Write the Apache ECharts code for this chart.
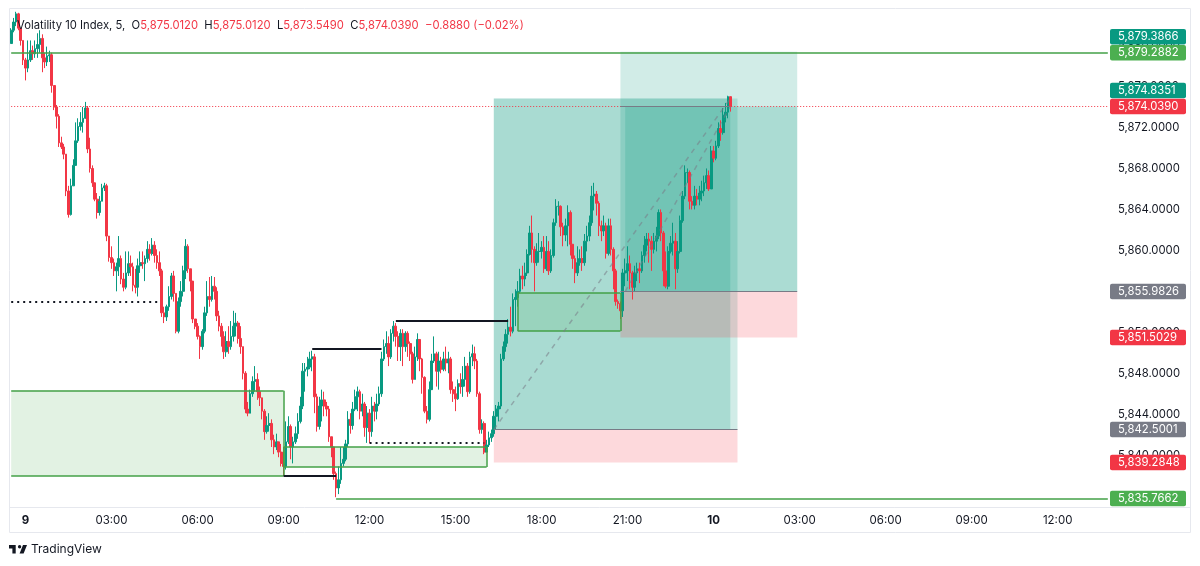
<!DOCTYPE html>
<html>
<head>
<meta charset="utf-8">
<title>Volatility 10 Index</title>
<script src="https://cdn.jsdelivr.net/npm/echarts@6/dist/echarts.min.js"></script>
<style>
  html, body { margin: 0; padding: 0; background: #fff; }
  #chart { width: 1200px; height: 566px; }
</style>
</head>
<body>
<div id="chart"></div>
<script>
// 5 minute bars. Each open is the previous close.
const firstOpen = 5880.2;
const closes = [
  5881.5,5882.3,5883.1,5881.7,5880.5,5878.6,5877.8,5878.6,5879.5,5879.2,
  5879.7,5880.1,5880.7,5878.8,5878.4,5879.0,5879.1,5876.1,5874.0,5873.1,
  5870.5,5870.1,5869.4,5865.8,5863.5,5866.3,5868.3,5870.7,5872.1,5872.5,
  5872.9,5873.9,5869.9,5868.0,5866.6,5865.0,5863.7,5864.8,5866.1,5866.3,
  5861.4,5859.3,5858.8,5858.0,5858.4,5859.2,5857.2,5856.4,5857.8,5858.7,
  5858.4,5856.6,5856.4,5858.5,5858.8,5858.7,5859.2,5860.1,5859.7,5860.5,
  5859.5,5858.8,5858.0,5853.9,5853.5,5854.5,5855.5,5857.5,5855.8,5852.1,
  5855.0,5856.0,5858.0,5860.4,5858.2,5857.0,5853.3,5852.6,5851.6,5850.6,
  5852.1,5853.9,5855.5,5855.2,5856.5,5856.0,5853.6,5852.6,5851.6,5850.1,
  5851.1,5850.6,5851.6,5852.6,5852.9,5851.4,5850.6,5848.0,5844.5,5844.1,
  5846.0,5847.2,5847.4,5846.2,5845.6,5844.3,5842.3,5842.9,5843.1,5841.5,
  5840.8,5841.3,5840.3,5839.2,5838.9,5841.3,5842.8,5840.8,5841.3,5842.1,
  5843.3,5844.8,5848.2,5848.4,5848.6,5849.4,5849.6,5845.7,5842.8,5844.8,
  5845.4,5844.8,5844.5,5841.8,5840.8,5838.2,5836.8,5837.6,5839.2,5839.6,
  5841.1,5843.5,5842.9,5844.5,5845.7,5846.2,5844.3,5845.0,5842.7,5844.1,
  5842.3,5844.8,5844.3,5845.0,5846.0,5849.4,5850.6,5850.9,5849.6,5851.9,
  5852.6,5851.6,5850.6,5851.9,5850.6,5851.9,5850.9,5849.9,5847.4,5849.6,
  5851.3,5849.4,5847.6,5844.3,5843.5,5846.4,5849.2,5849.9,5848.2,5849.2,
  5848.4,5849.4,5849.0,5849.4,5846.4,5846.0,5845.5,5847.0,5846.7,5847.4,
  5848.7,5846.2,5849.6,5849.9,5849.2,5846.0,5842.5,5843.1,5840.3,5841.0,
  5841.7,5842.1,5843.8,5844.5,5844.8,5849.4,5850.6,5851.8,5852.5,5852.1,
  5855.2,5855.4,5856.0,5857.5,5857.2,5857.8,5859.6,5861.7,5860.1,5858.8,
  5859.9,5859.9,5860.3,5858.2,5859.9,5858.0,5859.5,5862.7,5864.3,5864.3,
  5862.3,5861.5,5862.4,5863.7,5860.6,5859.2,5857.8,5858.8,5859.2,5858.8,
  5860.9,5861.4,5862.7,5865.3,5865.5,5864.6,5862.4,5861.9,5862.4,5859.7,
  5862.4,5860.1,5858.0,5855.0,5854.8,5854.1,5857.8,5858.0,5858.7,5857.8,
  5856.4,5857.8,5858.2,5858.0,5859.5,5860.5,5861.1,5860.9,5860.1,5860.9,
  5861.4,5863.7,5861.7,5858.0,5856.5,5859.9,5860.7,5860.9,5858.2,5859.9,
  5862.9,5865.3,5867.6,5867.6,5864.8,5864.4,5865.3,5865.0,5865.6,5865.8,
  5866.6,5867.3,5866.0,5869.7,5869.0,5870.2,5871.9,5871.5,5873.2,5873.5,
  5875.012,5874.039
];
const highs = [
  5881.7,5882.7,5883.3,5883.2,5881.7,5880.5,5878.8,5880.5,5880.5,5880.0,
  5880.5,5881.2,5881.5,5881.1,5879.3,5879.9,5879.5,5879.3,5876.1,5874.2,
  5873.3,5871.1,5870.4,5869.4,5866.3,5867.0,5868.9,5872.5,5872.9,5873.5,
  5874.0,5874.5,5874.1,5871.0,5868.3,5866.5,5865.6,5865.3,5866.5,5866.6,
  5866.5,5861.4,5860.4,5859.2,5858.8,5861.4,5859.5,5857.8,5859.9,5859.9,
  5859.5,5858.8,5858.2,5859.2,5859.9,5859.9,5859.5,5860.9,5860.6,5861.2,
  5860.9,5860.1,5859.9,5858.2,5854.5,5854.7,5856.5,5857.8,5858.0,5855.8,
  5855.4,5857.0,5858.5,5861.1,5860.6,5858.2,5857.0,5853.3,5852.9,5851.7,
  5852.3,5854.5,5857.0,5857.4,5857.5,5857.4,5856.4,5854.1,5852.9,5852.1,
  5852.1,5852.6,5853.1,5854.1,5853.9,5853.1,5852.6,5850.6,5848.2,5845.2,
  5846.4,5847.7,5848.7,5848.0,5846.7,5845.4,5844.5,5843.8,5844.1,5843.5,
  5842.0,5842.1,5841.3,5841.1,5840.8,5843.3,5843.8,5843.0,5841.8,5842.8,
  5844.1,5845.7,5849.0,5849.0,5849.6,5850.1,5850.2,5849.9,5846.0,5845.7,
  5846.4,5846.2,5845.2,5844.8,5841.8,5840.8,5838.4,5838.9,5840.8,5840.8,
  5841.5,5844.3,5844.1,5845.2,5846.4,5846.7,5846.4,5846.0,5845.2,5844.8,
  5844.5,5845.7,5845.2,5846.0,5846.7,5850.1,5851.3,5852.1,5851.6,5852.3,
  5853.1,5852.9,5852.1,5852.3,5852.3,5852.1,5852.1,5851.1,5850.1,5850.6,
  5851.9,5851.3,5849.5,5847.7,5844.8,5847.2,5849.9,5851.6,5850.1,5850.1,
  5849.6,5850.1,5850.6,5850.1,5849.6,5847.2,5846.7,5847.4,5848.0,5848.7,
  5849.6,5849.0,5850.1,5850.8,5850.6,5849.4,5846.2,5843.5,5843.3,5841.5,
  5842.3,5842.5,5844.3,5844.9,5845.2,5849.9,5851.1,5852.3,5853.3,5854.5,
  5855.8,5856.2,5857.0,5858.2,5858.5,5858.8,5860.1,5862.4,5863.4,5860.4,
  5860.7,5861.7,5860.9,5861.4,5861.4,5860.9,5860.1,5863.1,5865.0,5864.8,
  5864.4,5862.7,5863.1,5864.4,5863.9,5860.6,5859.5,5860.4,5860.1,5860.4,
  5861.6,5862.4,5863.4,5866.3,5866.6,5865.8,5864.8,5862.9,5863.4,5862.7,
  5863.1,5863.1,5860.3,5858.2,5855.2,5855.0,5858.2,5859.2,5860.4,5859.5,
  5858.0,5858.5,5858.8,5858.8,5859.9,5861.4,5861.7,5861.7,5861.4,5861.7,
  5862.3,5864.0,5864.0,5861.9,5859.9,5860.4,5861.4,5862.7,5861.7,5860.9,
  5863.4,5865.8,5868.3,5868.0,5867.8,5865.3,5866.3,5866.0,5866.3,5866.8,
  5867.3,5868.0,5867.8,5870.2,5870.2,5870.7,5872.5,5872.7,5873.9,5874.4,
  5875.1,5875.012
];
const lows = [
  5880.2,5881.3,5881.9,5881.5,5880.0,5878.1,5876.6,5877.4,5878.4,5878.6,
  5878.8,5878.8,5879.3,5877.4,5877.8,5878.0,5878.4,5875.4,5873.7,5871.9,
  5870.1,5869.9,5868.9,5865.3,5863.2,5863.4,5866.3,5868.3,5870.5,5871.7,
  5871.5,5872.9,5869.5,5867.6,5866.2,5864.8,5863.1,5863.4,5864.8,5865.8,
  5860.9,5858.9,5858.2,5857.5,5856.0,5857.5,5856.7,5856.0,5856.2,5857.5,
  5857.5,5856.0,5855.8,5855.5,5857.8,5858.2,5857.0,5858.8,5859.0,5859.5,
  5858.8,5858.2,5857.5,5853.5,5852.9,5853.1,5854.1,5855.2,5855.0,5851.9,
  5851.9,5854.5,5855.5,5857.2,5857.8,5856.0,5852.9,5852.3,5851.3,5849.4,
  5850.3,5851.9,5853.6,5854.5,5855.0,5855.2,5853.1,5852.1,5850.6,5849.4,
  5849.6,5849.9,5850.3,5851.1,5851.6,5850.9,5849.9,5847.4,5844.1,5843.8,
  5844.1,5845.7,5846.2,5845.4,5844.8,5843.5,5841.5,5842.1,5842.3,5840.8,
  5840.1,5840.5,5839.8,5838.9,5838.0,5838.6,5841.1,5839.6,5839.2,5841.1,
  5841.6,5843.1,5844.5,5846.2,5847.7,5848.4,5848.2,5844.1,5842.3,5842.5,
  5843.3,5843.8,5843.8,5841.3,5839.8,5837.6,5835.9,5836.2,5837.2,5838.9,
  5839.4,5840.8,5842.1,5842.5,5844.3,5844.3,5843.5,5843.8,5841.8,5841.2,
  5841.2,5841.8,5843.3,5843.5,5844.8,5845.7,5849.2,5849.9,5848.7,5849.4,
  5851.1,5850.6,5849.2,5849.2,5848.7,5850.1,5849.6,5849.2,5847.0,5847.4,
  5849.2,5848.2,5846.0,5844.1,5843.1,5843.3,5846.7,5849.0,5846.7,5846.4,
  5848.0,5848.2,5848.2,5848.0,5846.0,5845.2,5844.3,5845.4,5846.0,5845.7,
  5846.7,5845.7,5846.0,5848.7,5848.4,5845.7,5842.1,5842.1,5840.1,5840.3,
  5840.8,5841.3,5841.8,5842.5,5843.3,5844.5,5849.2,5850.1,5850.9,5851.6,
  5851.9,5852.6,5854.5,5855.8,5856.2,5856.5,5857.5,5859.5,5858.8,5856.0,
  5858.5,5858.8,5859.2,5857.8,5858.0,5857.6,5857.8,5859.3,5862.4,5863.4,
  5861.4,5860.4,5860.9,5860.4,5859.5,5858.2,5856.8,5857.5,5858.5,5858.0,
  5858.5,5859.9,5860.9,5862.4,5863.9,5863.4,5861.4,5860.9,5861.4,5859.2,
  5859.5,5859.5,5856.2,5854.6,5854.3,5853.3,5853.5,5856.5,5857.0,5856.2,
  5855.2,5856.0,5857.0,5856.8,5857.8,5858.8,5859.9,5858.8,5858.0,5859.7,
  5859.9,5861.1,5860.9,5856.5,5856.3,5856.2,5859.7,5859.5,5856.2,5857.8,
  5859.7,5862.7,5865.0,5866.6,5864.0,5864.0,5864.0,5864.4,5864.4,5864.8,
  5865.3,5866.0,5865.8,5867.0,5868.6,5868.8,5870.0,5870.7,5871.3,5872.5,
  5872.9,5873.549
];

// time axis
const dayStart = { day: 8, minutes: 23 * 60 + 30 };
const categoryCount = 460;
const tickTimes = ['9 00:00', '9 03:00', '9 06:00', '9 09:00', '9 12:00', '9 15:00', '9 18:00', '9 21:00',
  '10 00:00', '10 03:00', '10 06:00', '10 09:00', '10 12:00'];
const tickLabels = ['9', '03:00', '06:00', '09:00', '12:00', '15:00', '18:00', '21:00',
  '10', '03:00', '06:00', '09:00', '12:00'];

// price axis
const priceTicks = [5840, 5844, 5848, 5852, 5856, 5860, 5864, 5868, 5872, 5876, 5880];

// drawings, as [start time, end time, price, price]
const greenZones = [
  ['8 23:30', '9 09:00', 5846.3, 5837.96],
  ['9 09:00', '9 16:05', 5840.8, 5838.84],
  ['9 17:10', '9 20:45', 5855.84, 5852.13]
];
const blackLevels = [
  ['9 09:00', '9 10:50', 5837.96],
  ['9 10:00', '9 12:25', 5850.37],
  ['9 12:55', '9 16:50', 5853.1]
];
const dottedLevels = [
  ['8 23:30', '9 04:40', 5854.96],
  ['9 12:00', '9 16:00', 5841.19]
];
const bottomLevel = ['9 10:50', 5835.7662];
const resistance = 5879.2882;
const lastClose = 5874.039;

// long positions: start, active end, end, target, entry, stop
const longOne = ['9 16:20', '10 00:35', '10 00:50', 5874.8351, 5842.5001, 5839.2848];
const longTwo = ['9 20:45', '9 20:55', '10 02:55', 5879.3866, 5855.9826, 5851.5029];

// right hand price tags: price, colour, label offset
const priceTags = [
  [5879.3866, '#089981', -15],
  [5879.2882, '#4caf50', 0],
  [5874.8351, '#089981', -8],
  [5874.039, '#f23645', 0],
  [5855.9826, '#787b86', 0],
  [5851.5029, '#f23645', 0],
  [5842.5001, '#787b86', 0],
  [5839.2848, '#f23645', 0],
  [5835.7662, '#4caf50', 0]
];

const FONT = 'Inter, "Noto Sans", sans-serif';
const TEAL = '8,153,129';
const RED = '242,54,69';

const categories = [];
for (let i = 0; i < categoryCount; i++) {
  const m = dayStart.minutes + i * 5;
  const d = dayStart.day + Math.floor(m / 1440);
  const hh = String(Math.floor(m % 1440 / 60)).padStart(2, '0');
  const mm = String(m % 60).padStart(2, '0');
  categories.push(d + ' ' + hh + ':' + mm);
}

const candles = closes.map((c, i) => [i === 0 ? firstOpen : closes[i - 1], c, lows[i], highs[i]]);

const fmtPrice = (v) => v.toLocaleString('en-US', { minimumFractionDigits: 4, maximumFractionDigits: 4 });

const area = (t1, t2, p1, p2, color) => [
  { coord: [t1, p1], itemStyle: { color: color } },
  { coord: [t2, p2] }
];
const segment = (t1, p1, t2, p2, style) => [
  { coord: [t1, p1], lineStyle: style },
  { coord: [t2, p2] }
];

const areas = [
  // first long
  area(longOne[0], longOne[2], longOne[3], longOne[4], `rgba(${TEAL},0.19)`),
  area(longOne[0], longOne[1], longOne[3], longOne[4], `rgba(${TEAL},0.2)`),
  area(longOne[0], longOne[2], longOne[4], longOne[5], `rgba(${RED},0.19)`),
  // second long
  area(longTwo[0], longTwo[2], longTwo[3], longTwo[4], `rgba(${TEAL},0.19)`),
  area(longTwo[1], longTwo[2], lastClose, longTwo[4], `rgba(${TEAL},0.19)`),
  area(longTwo[0], longTwo[2], longTwo[4], longTwo[5], `rgba(${RED},0.19)`)
];
greenZones.forEach((z) => areas.push(area(z[0], z[1], z[2], z[3], 'rgba(76,175,80,0.16)')));

const greenEdge = { color: '#43a047', width: 1.5, type: 'solid' };
const grayEdge = { color: '#787b86', width: 1, type: 'solid' };
const segments = [];
greenZones.forEach((z, n) => {
  segments.push(segment(z[0], z[2], z[1], z[2], greenEdge));
  segments.push(segment(z[0], z[3], z[1], z[3], greenEdge));
  segments.push(segment(z[1], z[2], z[1], z[3], greenEdge));
  if (n > 0) segments.push(segment(z[0], z[2], z[0], z[3], greenEdge));
});
blackLevels.forEach((l) => segments.push(segment(l[0], l[2], l[1], l[2], { color: '#131722', width: 2, type: 'solid' })));
dottedLevels.forEach((l) => segments.push(segment(l[0], l[2], l[1], l[2], { color: '#131722', width: 2, type: [2, 4] })));
segments.push(segment(bottomLevel[0], bottomLevel[1], categories[categoryCount - 1], bottomLevel[1], greenEdge));
segments.push(segment(categories[0], resistance, categories[categoryCount - 1], resistance, greenEdge));
segments.push(segment(categories[0], lastClose, categories[categoryCount - 1], lastClose, { color: '#f23645', width: 1, type: [1, 2] }));
// entry lines and the dashed lines from entry to the last price
segments.push(segment(longOne[0], longOne[4], longOne[2], longOne[4], grayEdge));
segments.push(segment(longTwo[0], longTwo[4], longTwo[2], longTwo[4], grayEdge));
segments.push(segment(longTwo[0], lastClose, longOne[1], lastClose, grayEdge));
const dashed = { color: 'rgba(120,123,134,0.55)', width: 1.5, type: [5, 5] };
segments.push(segment(longOne[0], longOne[4], longOne[1], longOne[3], dashed));
segments.push(segment(longTwo[1], longTwo[4], longOne[1], lastClose, dashed));

const tagLines = priceTags.map((t) => ({
  yAxis: t[0],
  lineStyle: { color: 'transparent', opacity: 1 },
  label: {
    show: true,
    position: 'end',
    distance: 1,
    offset: [0, t[2]],
    formatter: fmtPrice(t[0]),
    width: 68,
    height: 15.5,
    lineHeight: 15.5,
    align: 'left',
    verticalAlign: 'middle',
    color: '#fff',
    fontFamily: FONT,
    fontSize: 11.3,
    padding: [0, 0, 0, 8],
    backgroundColor: t[1],
    borderRadius: 2
  }
}));

const legendText = '{k|Volatility 10 Index, 5,  O}{v|5,875.0120}{k|  H}{v|5,875.0120}{k|  L}{v|5,873.5490}{k|  C}{v|5,874.0390}{v|  \u22120.8880 (\u22120.02%)}';

const chart = echarts.init(document.getElementById('chart'), null, { renderer: 'canvas' });
chart.setOption({
  animation: false,
  backgroundColor: '#fff',
  title: {
    left: 12,
    top: 15,
    text: legendText,
    z: 10,
    textStyle: {
      fontWeight: 'normal',
      rich: {
        k: { color: '#131722', fontFamily: FONT, fontSize: 11.25, fontWeight: 'normal' },
        v: { color: '#f23645', fontFamily: FONT, fontSize: 11.25, fontWeight: 'normal' }
      }
    }
  },
  grid: { left: 10, right: 91, top: 8, bottom: 59 },
  xAxis: {
    type: 'category',
    data: categories,
    boundaryGap: true,
    axisLine: { show: false },
    axisTick: { show: false },
    splitLine: { show: false },
    axisLabel: {
      margin: 8,
      hideOverlap: false,
      interval: (i, v) => tickTimes.includes(v),
      formatter: (v) => {
        const label = tickLabels[tickTimes.indexOf(v)];
        return label.includes(':') ? label : '{b|' + label + '}';
      },
      color: '#131722',
      fontFamily: FONT,
      fontSize: 11.5,
      rich: { b: { fontWeight: 'bold', color: '#131722', fontFamily: FONT, fontSize: 11.5 } }
    }
  },
  yAxis: {
    type: 'value',
    position: 'right',
    scale: true,
    min: 5834.94,
    max: 5883.67,
    axisLine: { show: false },
    axisTick: { show: false },
    splitLine: { show: false },
    axisLabel: {
      customValues: priceTicks,
      formatter: fmtPrice,
      margin: 9,
      color: '#131722',
      fontFamily: FONT,
      fontSize: 11.3
    }
  },
  series: [
    {
      name: 'Volatility 10 Index',
      type: 'candlestick',
      data: candles,
      barWidth: 2.2,
      z: 2,
      itemStyle: {
        color: '#089981',
        color0: '#f23645',
        borderColor: '#089981',
        borderColor0: '#f23645',
        borderWidth: 1
      }
    },
    {
      name: 'drawings',
      type: 'line',
      data: [],
      z: 3,
      silent: true,
      markArea: { silent: true, data: areas },
      markLine: { silent: true, symbol: 'none', animation: false, label: { show: false }, data: segments }
    },
    {
      name: 'tags',
      type: 'line',
      data: [],
      z: 20,
      silent: true,
      markLine: { silent: true, symbol: 'none', animation: false, z: 20, data: tagLines }
    }
  ],
  graphic: [
    { type: 'rect', silent: true, z: -1, shape: { x: 9.5, y: 8.5, width: 1181, height: 524 }, style: { fill: 'none', stroke: '#e6e8ee', lineWidth: 1 } },
    { type: 'line', silent: true, z: -1, shape: { x1: 9.5, y1: 507.5, x2: 1190, y2: 507.5 }, style: { stroke: '#e6e8ee', lineWidth: 1 } },
    // TradingView logo
    { type: 'polygon', silent: true, shape: { points: [[9, 545], [15.7, 545], [15.7, 553.4], [12.4, 553.4], [12.4, 548.4], [9, 548.4]] }, style: { fill: '#131722' } },
    { type: 'polygon', silent: true, shape: { points: [[19.6, 553.4], [23.6, 553.4], [27, 545], [23, 545]] }, style: { fill: '#131722' } },
    { type: 'circle', silent: true, shape: { cx: 19.6, cy: 546.7, r: 1.7 }, style: { fill: '#131722' } },
    { type: 'text', silent: true, x: 31, y: 543, style: { text: 'TradingView', fill: '#131722', font: '12px ' + FONT } }
  ]
});
</script>
</body>
</html>
